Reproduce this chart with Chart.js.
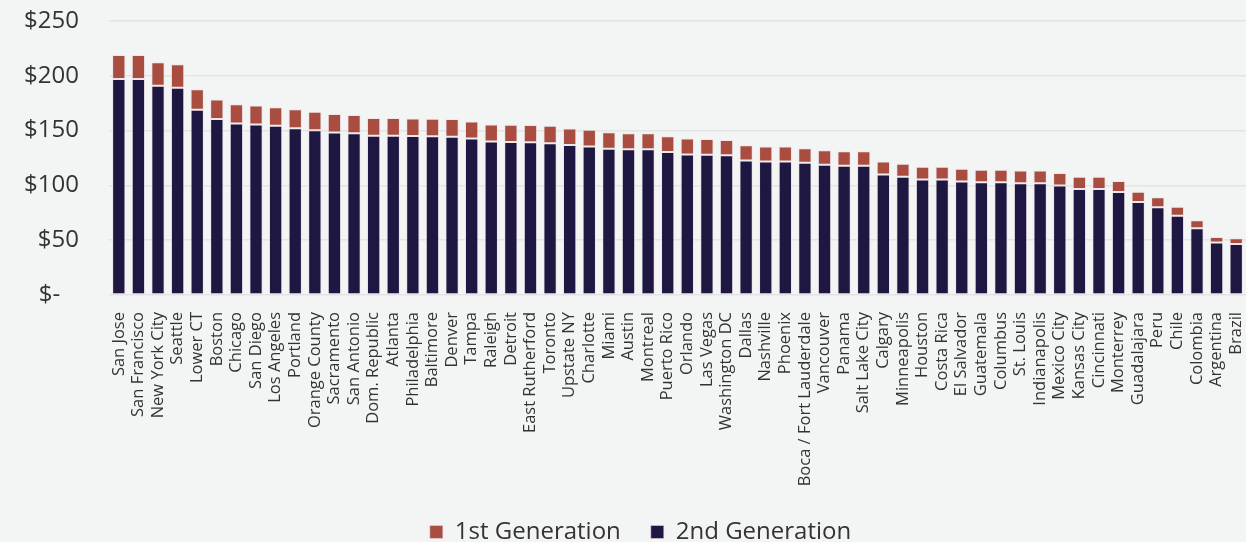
<!DOCTYPE html>
<html>
<head>
<meta charset="utf-8">
<script src="https://cdn.jsdelivr.net/npm/chart.js@4/dist/chart.umd.min.js"></script>
<style>
  html, body { margin: 0; padding: 0; background: #f3f5f4; overflow: hidden; }
  #wrap { width: 1246px; height: 542px; position: relative; }
</style>
</head>
<body>
<div id="wrap"><canvas id="chart"></canvas></div>
<script>
const cities = [
    'San Jose', 'San Francisco', 'New York City', 'Seattle', 'Lower CT', 'Boston', 'Chicago',
    'San Diego', 'Los Angeles', 'Portland', 'Orange County', 'Sacramento', 'San Antonio',
    'Dom. Republic', 'Atlanta', 'Philadelphia', 'Baltimore', 'Denver', 'Tampa', 'Raleigh',
    'Detroit', 'East Rutherford', 'Toronto', 'Upstate NY', 'Charlotte', 'Miami', 'Austin',
    'Montreal', 'Puerto Rico', 'Orlando', 'Las Vegas', 'Washington DC', 'Dallas', 'Nashville',
    'Phoenix', 'Boca / Fort Lauderdale', 'Vancouver', 'Panama', 'Salt Lake City', 'Calgary',
    'Minneapolis', 'Houston', 'Costa Rica', 'El Salvador', 'Guatemala', 'Columbus', 'St. Louis',
    'Indianapolis', 'Mexico City', 'Kansas City', 'Cincinnati', 'Monterrey', 'Guadalajara',
    'Peru', 'Chile', 'Colombia', 'Argentina', 'Brazil'
];

// 2nd generation (bottom of stack)
const secondGen = [
    197, 197, 191, 189, 169, 160.5, 156.5, 155.6, 154.4, 152.2, 150.4, 148.3, 147.6,
    145.2, 145.2, 145, 144.9, 144.3, 142.7, 140,
    139.7, 139.4, 138.4, 136.9, 135.4, 133.5, 132.9, 132.9, 130.5, 128.3,
    128, 127.4, 122.8, 121.9, 121.9, 120.7, 118.8, 117.9, 117.9, 109.9,
    107.8, 105.4, 105.4, 103.5, 102.9, 102.9, 102, 102, 99.8, 96.8,
    96.8, 94, 84.8, 80, 72.3, 60.9, 47.8, 46.5
];

// 1st generation (top of stack)
const firstGen = [
    22, 22, 21.3, 21.5, 18.8, 17.8, 17.5, 17.2, 16.8, 17.2, 16.9, 16.8, 16.6,
    16.2, 16.2, 16.1, 15.9, 16.2, 15.7, 15.6,
    15.6, 15.6, 16, 15, 15.3, 15.1, 14.7, 14.7, 14.4, 14.4,
    14.4, 14.1, 13.8, 13.5, 13.5, 13.2, 13.2, 13.2, 13.2, 12,
    12, 11.6, 11.6, 11.7, 11.4, 11.4, 11.6, 11.6, 11.4, 11,
    11, 10.1, 9.5, 9.1, 8.2, 7.4, 5.1, 5.2
];

const yTicks = [0, 50, 100, 150, 200, 250];

const FONT = "'Open Sans', 'DejaVu Sans', sans-serif";

// the legend in the original sits a little right of the canvas centre
const nudgeLegend = {
    id: 'nudgeLegend',
    afterLayout(chart) {
        if (chart.legend) chart.legend.left += 32;
    }
};

new Chart(document.getElementById('chart').getContext('2d'), {
    type: 'bar',
    data: {
        labels: cities,
        datasets: [
            {
                label: '2nd Generation',
                data: secondGen,
                backgroundColor: '#1e1741',
                borderColor: 'rgba(235, 215, 225, 0.55)',
                borderWidth: 1,
                borderSkipped: false,
                barPercentage: 0.68,
                categoryPercentage: 1
            },
            {
                label: '1st Generation',
                data: firstGen,
                backgroundColor: '#a84d40',
                borderColor: 'rgba(235, 215, 225, 0.55)',
                borderWidth: 1,
                borderSkipped: false,
                barPercentage: 0.68,
                categoryPercentage: 1
            }
        ]
    },
    plugins: [nudgeLegend],
    options: {
        responsive: true,
        maintainAspectRatio: false,
        animation: false,
        layout: { padding: { top: 21, right: -3, left: 0, bottom: -12 } },
        plugins: {
            legend: {
                position: 'bottom',
                reverse: true,
                labels: {
                    boxWidth: 13,
                    boxHeight: 13,
                    padding: 30,
                    color: '#333333',
                    font: { family: FONT, size: 24 }
                }
            },
            tooltip: { enabled: false }
        },
        scales: {
            x: {
                stacked: true,
                grid: { display: false },
                border: { display: false },
                ticks: {
                    autoSkip: false,
                    maxRotation: 90,
                    minRotation: 90,
                    padding: 9,
                    color: '#333333',
                    font: { family: FONT, size: 16.5 }
                },
                afterFit: s => { s.height = 195; s.paddingLeft = 0; s.paddingRight = 0; }
            },
            y: {
                stacked: true,
                min: 0,
                max: 250,
                afterBuildTicks: s => { s.ticks = yTicks.map(v => ({ value: v })); },
                grid: { color: '#e3e5e4', lineWidth: 1.5, drawTicks: false },
                border: { display: false },
                ticks: {
                    padding: 30,
                    color: '#333333',
                    font: { family: FONT, size: 24 },
                    callback: v => v === 0 ? '$-   ' : '$' + v
                },
                afterFit: s => { s.width = 109; s.paddingTop = 0; s.paddingBottom = 0; }
            }
        }
    }
});
</script>
</body>
</html>
